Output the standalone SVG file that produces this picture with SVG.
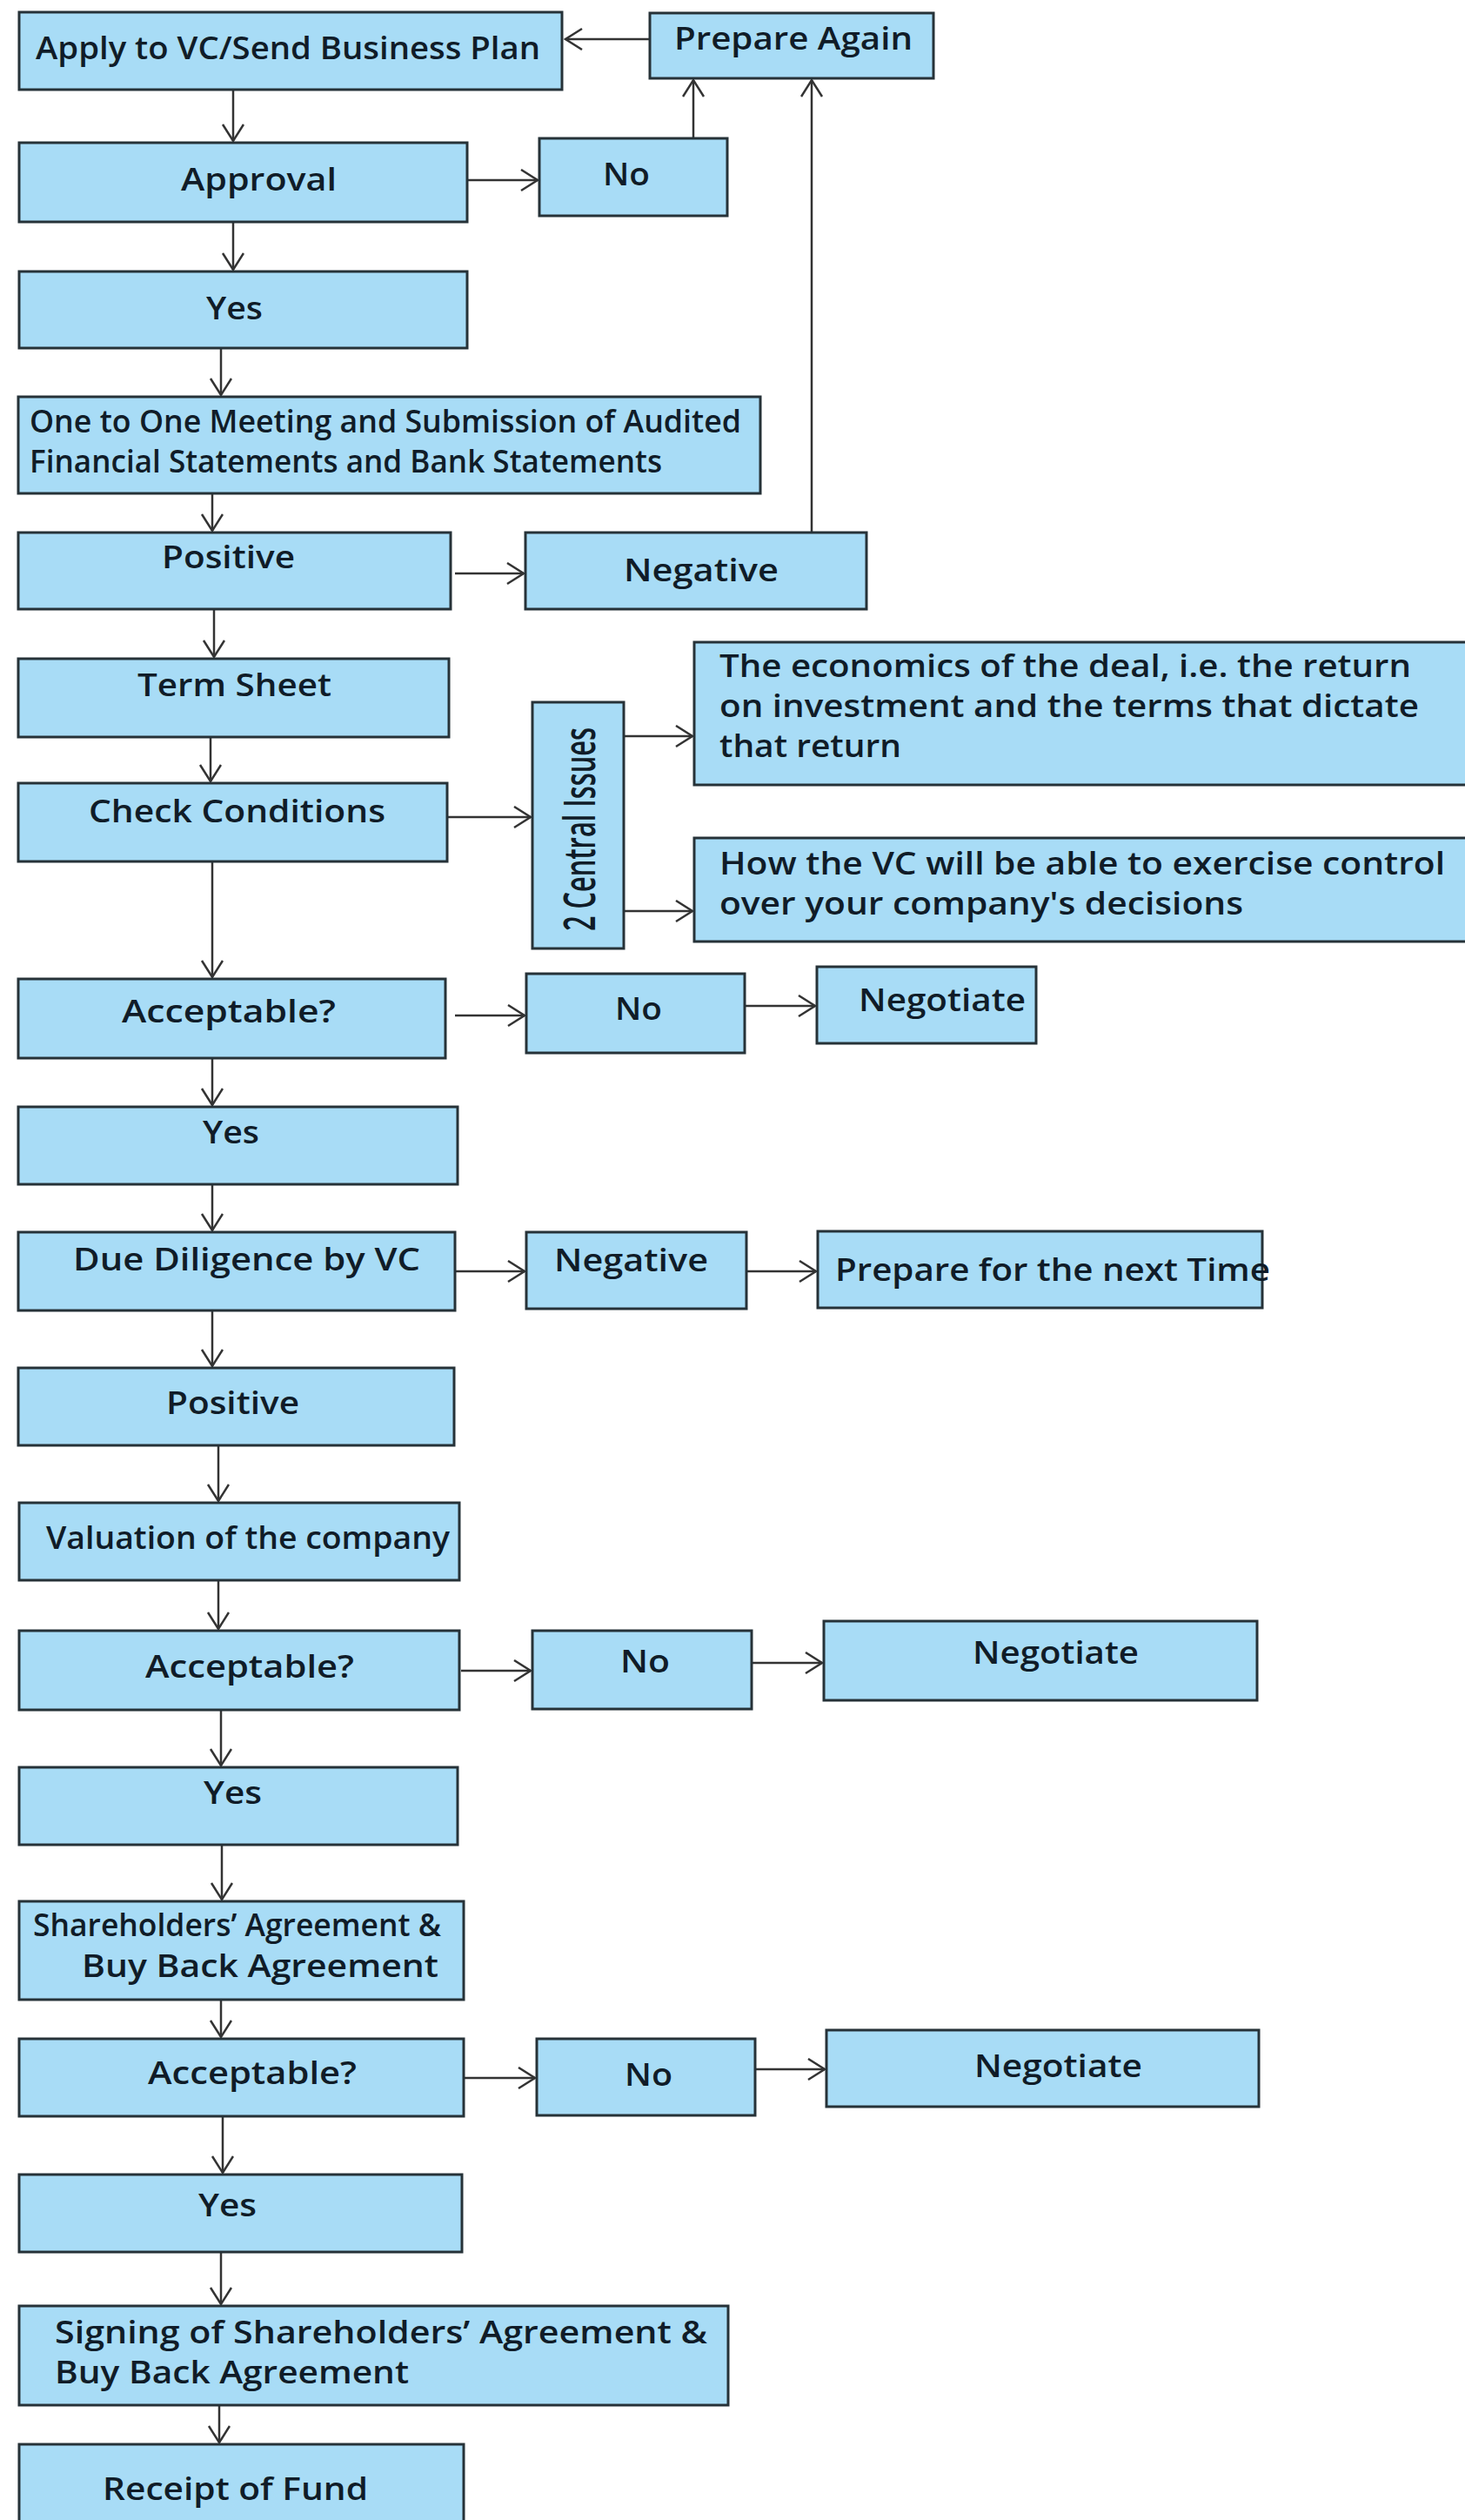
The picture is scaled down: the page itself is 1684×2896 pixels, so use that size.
<svg xmlns="http://www.w3.org/2000/svg" width="1684" height="2896" viewBox="0 0 1684 2896">
  <style>
    .box { fill: #a8dcf6; stroke: #263238; stroke-width: 3; }
    .t { font-family: "Open Sans", "Noto Sans", "Liberation Sans", sans-serif; font-size: 36px; font-weight: 600; fill: #101c28; }
    .c { fill: none; stroke: #333333; stroke-width: 2.5; marker-end: url(#ah); }
  </style>
  <defs>
    <marker id="ah" markerUnits="userSpaceOnUse" markerWidth="26" markerHeight="28" refX="22" refY="13" orient="auto">
      <path d="M3,1 L22,13 L3,25" fill="none" stroke="#333333" stroke-width="2.5"/>
    </marker>
  </defs>
  <rect width="1684" height="2896" fill="#ffffff"/>

  <!-- connectors -->
  <g id="connectors">
    <path class="c" d="M747,45 H650"/>
    <path class="c" d="M268,103 V162"/>
    <path class="c" d="M537,207 H618"/>
    <path class="c" d="M797,159 V92"/>
    <path class="c" d="M268,255 V310"/>
    <path class="c" d="M254,400 V454"/>
    <path class="c" d="M244,567 V610"/>
    <path class="c" d="M523,659 H602"/>
    <path class="c" d="M933,612 V92"/>
    <path class="c" d="M246,700 V755"/>
    <path class="c" d="M242,847 V898"/>
    <path class="c" d="M514,939 H610"/>
    <path class="c" d="M717,846 H796"/>
    <path class="c" d="M717,1047 H796"/>
    <path class="c" d="M244,990 V1123"/>
    <path class="c" d="M523,1167 H603"/>
    <path class="c" d="M856,1156 H937"/>
    <path class="c" d="M244,1216 V1270"/>
    <path class="c" d="M244,1361 V1414"/>
    <path class="c" d="M523,1461 H603"/>
    <path class="c" d="M858,1461 H938"/>
    <path class="c" d="M244,1506 V1570"/>
    <path class="c" d="M251,1661 V1725"/>
    <path class="c" d="M251,1816 V1872"/>
    <path class="c" d="M530,1920 H610"/>
    <path class="c" d="M864,1911 H945"/>
    <path class="c" d="M254,1965 V2029"/>
    <path class="c" d="M255,2120 V2183"/>
    <path class="c" d="M254,2298 V2341"/>
    <path class="c" d="M533,2388 H615"/>
    <path class="c" d="M868,2378 H948"/>
    <path class="c" d="M256,2432 V2497"/>
    <path class="c" d="M254,2588 V2648"/>
    <path class="c" d="M252,2764 V2807"/>
  </g>

  <!-- nodes -->
  <g id="apply"><rect class="box" x="22" y="14" width="624" height="89"/>
    <text class="t" x="41" y="68" textLength="580" lengthAdjust="spacingAndGlyphs">Apply to VC/Send Business Plan</text></g>
  <g id="prepare-again"><rect class="box" x="747" y="15" width="326" height="75"/>
    <text class="t" x="775" y="57" textLength="274" lengthAdjust="spacingAndGlyphs">Prepare Again</text></g>
  <g id="approval"><rect class="box" x="22" y="164" width="515" height="91"/>
    <text class="t" x="208" y="219" textLength="179" lengthAdjust="spacingAndGlyphs">Approval</text></g>
  <g id="approval-no"><rect class="box" x="620" y="159" width="216" height="89"/>
    <text class="t" x="693" y="213" textLength="54" lengthAdjust="spacingAndGlyphs">No</text></g>
  <g id="approval-yes"><rect class="box" x="22" y="312" width="515" height="88"/>
    <text class="t" x="237" y="367" textLength="65" lengthAdjust="spacingAndGlyphs">Yes</text></g>
  <g id="meeting"><rect class="box" x="21" y="456" width="853" height="111"/>
    <text class="t"><tspan x="34" y="497" textLength="818" lengthAdjust="spacingAndGlyphs">One to One Meeting and Submission of Audited</tspan><tspan x="34" y="543" textLength="727" lengthAdjust="spacingAndGlyphs">Financial Statements and Bank Statements</tspan></text></g>
  <g id="meeting-positive"><rect class="box" x="21" y="612" width="497" height="88"/>
    <text class="t" x="186" y="653" textLength="153" lengthAdjust="spacingAndGlyphs">Positive</text></g>
  <g id="meeting-negative"><rect class="box" x="604" y="612" width="392" height="88"/>
    <text class="t" x="717" y="668" textLength="178" lengthAdjust="spacingAndGlyphs">Negative</text></g>
  <g id="term-sheet"><rect class="box" x="21" y="757" width="495" height="90"/>
    <text class="t" x="158" y="800" textLength="223" lengthAdjust="spacingAndGlyphs">Term Sheet</text></g>
  <g id="check-conditions"><rect class="box" x="21" y="900" width="493" height="90"/>
    <text class="t" x="102" y="945" textLength="341" lengthAdjust="spacingAndGlyphs">Check Conditions</text></g>
  <g id="central-issues"><rect class="box" x="612" y="807" width="105" height="283"/>
    <text class="t" transform="translate(684,1070) rotate(-90)" x="0" y="0" style="font-size:50px" textLength="234" lengthAdjust="spacingAndGlyphs">2 Central Issues</text></g>
  <g id="issue-economics"><rect class="box" x="798" y="738" width="902" height="164"/>
    <text class="t"><tspan x="827" y="778" textLength="795" lengthAdjust="spacingAndGlyphs">The economics of the deal, i.e. the return</tspan><tspan x="827" y="824" textLength="804" lengthAdjust="spacingAndGlyphs">on investment and the terms that dictate</tspan><tspan x="827" y="870" textLength="209" lengthAdjust="spacingAndGlyphs">that return</tspan></text></g>
  <g id="issue-control"><rect class="box" x="798" y="963" width="902" height="119"/>
    <text class="t"><tspan x="827" y="1005" textLength="834" lengthAdjust="spacingAndGlyphs">How the VC will be able to exercise control</tspan><tspan x="827" y="1051" textLength="602" lengthAdjust="spacingAndGlyphs">over your company's decisions</tspan></text></g>
  <g id="terms-acceptable"><rect class="box" x="21" y="1125" width="491" height="91"/>
    <text class="t" x="140" y="1175" textLength="246" lengthAdjust="spacingAndGlyphs">Acceptable?</text></g>
  <g id="terms-no"><rect class="box" x="605" y="1119" width="251" height="91"/>
    <text class="t" x="707" y="1172" textLength="54" lengthAdjust="spacingAndGlyphs">No</text></g>
  <g id="terms-negotiate"><rect class="box" x="939" y="1111" width="252" height="88"/>
    <text class="t" x="987" y="1162" textLength="192" lengthAdjust="spacingAndGlyphs">Negotiate</text></g>
  <g id="terms-yes"><rect class="box" x="21" y="1272" width="505" height="89"/>
    <text class="t" x="233" y="1314" textLength="65" lengthAdjust="spacingAndGlyphs">Yes</text></g>
  <g id="due-diligence"><rect class="box" x="21" y="1416" width="502" height="90"/>
    <text class="t" x="84" y="1460" textLength="399" lengthAdjust="spacingAndGlyphs">Due Diligence by VC</text></g>
  <g id="dd-negative"><rect class="box" x="605" y="1416" width="253" height="88"/>
    <text class="t" x="637" y="1461" textLength="177" lengthAdjust="spacingAndGlyphs">Negative</text></g>
  <g id="prepare-next"><rect class="box" x="940" y="1415" width="511" height="88"/>
    <text class="t" x="960" y="1472" textLength="500" lengthAdjust="spacingAndGlyphs">Prepare for the next Time</text></g>
  <g id="dd-positive"><rect class="box" x="21" y="1572" width="501" height="89"/>
    <text class="t" x="191" y="1625" textLength="153" lengthAdjust="spacingAndGlyphs">Positive</text></g>
  <g id="valuation"><rect class="box" x="22" y="1727" width="506" height="89"/>
    <text class="t" x="53" y="1780" textLength="464" lengthAdjust="spacingAndGlyphs">Valuation of the company</text></g>
  <g id="valuation-acceptable"><rect class="box" x="22" y="1874" width="506" height="91"/>
    <text class="t" x="167" y="1928" textLength="240" lengthAdjust="spacingAndGlyphs">Acceptable?</text></g>
  <g id="valuation-no"><rect class="box" x="612" y="1874" width="252" height="90"/>
    <text class="t" x="713" y="1922" textLength="57" lengthAdjust="spacingAndGlyphs">No</text></g>
  <g id="valuation-negotiate"><rect class="box" x="947" y="1863" width="498" height="91"/>
    <text class="t" x="1118" y="1912" textLength="191" lengthAdjust="spacingAndGlyphs">Negotiate</text></g>
  <g id="valuation-yes"><rect class="box" x="22" y="2031" width="504" height="89"/>
    <text class="t" x="234" y="2073" textLength="67" lengthAdjust="spacingAndGlyphs">Yes</text></g>
  <g id="agreements"><rect class="box" x="22" y="2185" width="511" height="113"/>
    <text class="t"><tspan x="38" y="2225" textLength="469" lengthAdjust="spacingAndGlyphs">Shareholders’ Agreement &amp;</tspan><tspan x="94" y="2272" textLength="410" lengthAdjust="spacingAndGlyphs">Buy Back Agreement</tspan></text></g>
  <g id="agreements-acceptable"><rect class="box" x="22" y="2343" width="511" height="89"/>
    <text class="t" x="170" y="2395" textLength="240" lengthAdjust="spacingAndGlyphs">Acceptable?</text></g>
  <g id="agreements-no"><rect class="box" x="617" y="2343" width="251" height="88"/>
    <text class="t" x="718" y="2397" textLength="55" lengthAdjust="spacingAndGlyphs">No</text></g>
  <g id="agreements-negotiate"><rect class="box" x="950" y="2333" width="497" height="88"/>
    <text class="t" x="1120" y="2387" textLength="193" lengthAdjust="spacingAndGlyphs">Negotiate</text></g>
  <g id="agreements-yes"><rect class="box" x="22" y="2499" width="509" height="89"/>
    <text class="t" x="228" y="2547" textLength="67" lengthAdjust="spacingAndGlyphs">Yes</text></g>
  <g id="signing"><rect class="box" x="22" y="2650" width="815" height="114"/>
    <text class="t"><tspan x="63" y="2693" textLength="750" lengthAdjust="spacingAndGlyphs">Signing of Shareholders’ Agreement &amp;</tspan><tspan x="63" y="2739" textLength="407" lengthAdjust="spacingAndGlyphs">Buy Back Agreement</tspan></text></g>
  <g id="receipt"><rect class="box" x="22" y="2809" width="511" height="100"/>
    <text class="t" x="118" y="2873" textLength="305" lengthAdjust="spacingAndGlyphs">Receipt of Fund</text></g>
</svg>
